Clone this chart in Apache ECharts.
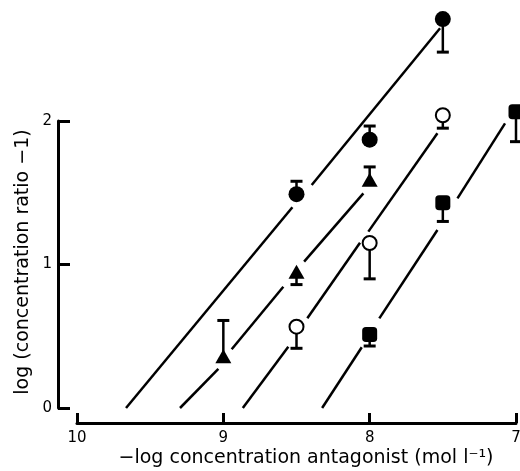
<!DOCTYPE html>
<html>
<head>
<meta charset="utf-8">
<script src="https://cdn.jsdelivr.net/npm/echarts@6/dist/echarts.min.js"></script>
<style>html,body{margin:0;padding:0;background:#fff;}#c{width:520px;height:471px;}</style>
</head>
<body>
<div id="c"></div>
<script>
// -log concentration of antagonist (x) for each group
var xFilledCircle = [8.5, 8.0, 7.5];
var yFilledCircle = [1.49, 1.87, 2.71];
var errFilledCircle = [1.58, 1.965, 2.48];   // end of error bar

var xTriangle = [9.0, 8.5, 8.0];
var yTriangle = [0.36, 0.95, 1.59];
var errTriangle = [0.61, 0.86, 1.68];

var xOpenCircle = [8.5, 8.0, 7.5];
var yOpenCircle = [0.567, 1.15, 2.04];
var errOpenCircle = [0.416, 0.90, 1.95];

var xSquare = [8.0, 7.5, 7.0];
var ySquare = [0.513, 1.43, 2.065];
var errSquare = [0.432, 1.30, 1.856];

// regression line segments (broken around the symbols), [x, y] endpoints
var lineFilledCircle = [[[9.665, 0], [8.528, 1.399]], [[8.396, 1.554], [7.519, 2.646]]];
var lineTriangle = [[[9.296, 0], [9.034, 0.272]], [[8.943, 0.409], [8.59, 0.845]], [[8.448, 1.02], [8.043, 1.496]]];
var lineOpenCircle = [[[8.867, 0], [8.556, 0.427]], [[8.426, 0.625], [8.066, 1.152]], [[8.009, 1.229], [7.537, 1.914]]];
var lineSquare = [[[8.325, 0], [8.054, 0.423]], [[7.934, 0.625], [7.537, 1.24]], [[7.4, 1.461], [7.075, 1.984]]];

var xTicks = [7, 8, 9, 10];
var yTicks = [0, 1, 2];
var xTitle = '\u2212log concentration antagonist (mol l\u207B\u00B9)';
var yTitle = 'log (concentration ratio \u22121)';

var chart = echarts.init(document.getElementById('c'), null, {renderer: 'canvas'});
var FONT = 'DejaVu Sans';

function pts(xs, ys) { return xs.map(function (x, i) { return [x, ys[i]]; }); }
function errs(xs, ys, es) { return xs.map(function (x, i) { return [x, ys[i], es[i]]; }); }

var series = [];
[lineFilledCircle, lineTriangle, lineOpenCircle, lineSquare].forEach(function (segs) {
  segs.forEach(function (seg) {
    series.push({
      type: 'line', data: seg, symbol: 'none', clip: false, silent: true, z: 2,
      lineStyle: {color: '#000', width: 2.5, opacity: 1}, animation: false
    });
  });
});

function errorSeries(data) {
  return {
    type: 'custom', z: 3, clip: false, silent: true, animation: false,
    encode: {x: 0, y: [1, 2]},
    data: data,
    renderItem: function (params, api) {
      var x = api.value(0), y0 = api.value(1), y1 = api.value(2);
      var p0 = api.coord([x, y0]), p1 = api.coord([x, y1]);
      return {type: 'group', children: [
        {type: 'line', shape: {x1: p0[0], y1: p0[1], x2: p1[0], y2: p1[1]}, style: {stroke: '#000', lineWidth: 2.5}},
        {type: 'line', shape: {x1: p1[0] - 6, y1: p1[1], x2: p1[0] + 6, y2: p1[1]}, style: {stroke: '#000', lineWidth: 3}}
      ]};
    }
  };
}
series.push(errorSeries(errs(xFilledCircle, yFilledCircle, errFilledCircle)));
series.push(errorSeries(errs(xTriangle, yTriangle, errTriangle)));
series.push(errorSeries(errs(xOpenCircle, yOpenCircle, errOpenCircle)));
series.push(errorSeries(errs(xSquare, ySquare, errSquare)));

series.push({type: 'scatter', z: 5, animation: false, clip: false, symbol: 'circle', symbolSize: 16,
  itemStyle: {color: '#000', opacity: 1}, data: pts(xFilledCircle, yFilledCircle)});
series.push({type: 'scatter', z: 5, animation: false, clip: false, symbol: 'triangle', symbolSize: [16, 14],
  itemStyle: {color: '#000', opacity: 1}, data: pts(xTriangle, yTriangle)});
series.push({type: 'scatter', z: 5, animation: false, clip: false, symbol: 'circle', symbolSize: 14,
  itemStyle: {color: '#fff', borderColor: '#000', borderWidth: 2, opacity: 1}, data: pts(xOpenCircle, yOpenCircle)});
series.push({type: 'scatter', z: 5, animation: false, clip: false, symbol: 'roundRect', symbolSize: 15,
  itemStyle: {color: '#000', opacity: 1}, data: pts(xSquare, ySquare)});

chart.setOption({
  animation: false,
  backgroundColor: '#fff',
  grid: {left: 77, right: 4, top: 121, bottom: 63, containLabel: false, outerBoundsMode: 'none'},
  xAxis: {
    type: 'value', min: 7, max: 10, interval: 1, inverse: true, offset: 15,
    axisLine: {show: true, onZero: false, lineStyle: {color: '#000', width: 3}},
    axisTick: {show: true, inside: true, length: 10, lineStyle: {color: '#000', width: 3}},
    axisLabel: {color: '#000', fontSize: 15, fontFamily: FONT, margin: 8, showMinLabel: true, showMaxLabel: true,
      formatter: function (v) { return xTicks.indexOf(v) >= 0 ? String(v) : ''; }},
    splitLine: {show: false}
  },
  yAxis: {
    type: 'value', min: 0, max: 2, interval: 1, offset: 19,
    axisLine: {show: true, onZero: false, lineStyle: {color: '#000', width: 3}},
    axisTick: {show: true, inside: true, length: 12, lineStyle: {color: '#000', width: 3}},
    axisLabel: {color: '#000', fontSize: 15, fontFamily: FONT, margin: 6, showMinLabel: true, showMaxLabel: true,
      formatter: function (v) { return yTicks.indexOf(v) >= 0 ? String(v) : ''; }},
    splitLine: {show: false}
  },
  graphic: [
    {type: 'text', x: 306, y: 458, style: {text: xTitle, fill: '#000', font: '19px ' + FONT, textAlign: 'center', textVerticalAlign: 'middle'}},
    {type: 'text', x: 23, y: 262, rotation: Math.PI / 2, style: {text: yTitle, fill: '#000', font: '19px ' + FONT, textAlign: 'center', textVerticalAlign: 'middle'}}
  ],
  series: series
});
</script>
</body>
</html>
